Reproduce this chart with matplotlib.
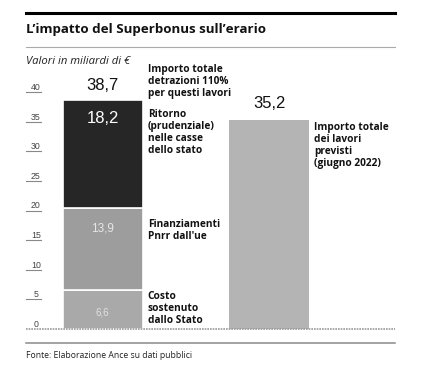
import matplotlib
matplotlib.use("Agg")
import matplotlib.pyplot as plt
from matplotlib.lines import Line2D

# data
stack_values = [6.6, 13.9, 18.2]          # Costo Stato, Pnrr, Ritorno
stack_labels = ["6,6", "13,9", "18,2"]
stack_notes = ["Costo\nsostenuto\ndallo Stato",
               "Finanziamenti\nPnrr dall'ue",
               "Ritorno\n(prudenziale)\nnelle casse\ndello stato"]
total_deduction = 38.7
total_deduction_label = "38,7"
total_deduction_note = "Importo totale\ndetrazioni 110%\nper questi lavori"
works_total = 35.2
works_total_label = "35,2"
works_total_note = "Importo totale\ndei lavori\nprevisti\n(giugno 2022)"
y_ticks = [0, 5, 10, 15, 20, 25, 30, 35, 40]

W, H = 440, 390
fig = plt.figure(figsize=(4.4, 3.9), dpi=100)
fig.patch.set_facecolor("white")

def fy(py):
    return 1 - py / H

def fx(px):
    return px / W

FONT = "Open Sans"
NOTE_SIZE = 7.3
NOTE_LS = 1.12

# decorative lines
fig.add_artist(Line2D([fx(26), fx(395)], [fy(12.5), fy(12.5)], color="black", lw=2.2))
fig.add_artist(Line2D([fx(26), fx(395)], [fy(47), fy(47)], color="#aaaaaa", lw=0.8))
fig.add_artist(Line2D([fx(26), fx(395)], [fy(343), fy(343)], color="#8a8a8a", lw=1.1))

fig.text(fx(26), fy(29), "L\u2019impatto del Superbonus sull\u2019erario", fontsize=9.6,
         fontweight="bold", family=FONT, va="center", ha="left", color="#111111")
fig.text(fx(26), fy(61), "Valori in miliardi di \u20ac", fontsize=8.1, style="italic",
         family=FONT, va="center", ha="left", color="#222222")
fig.text(fx(26), fy(356), "Fonte: Elaborazione Ance su dati pubblici", fontsize=6.2,
         family=FONT, va="center", ha="left", color="#222222")

ax = fig.add_axes([fx(26), fy(329), fx(395) - fx(26), (329 - 92) / H])
ax.set_ylim(0, 40)
ax.set_xlim(-0.46, 1.757)
ax.axis("off")

width = 0.48
seg_colors = ["#a9a9a9", "#9d9d9d", "#262626"]
seg_text_colors = ["#e2e2e2", "#e6e6e6", "white"]
seg_text_sizes = [7, 8.5, 12]
seg_text_offsets = [-13, -10.5, -8]
note_offsets = [-1, -8, -7]

bottom = 0
for val, lab, note, col, tcol, tsz, toff, noff in zip(
        stack_values, stack_labels, stack_notes, seg_colors, seg_text_colors,
        seg_text_sizes, seg_text_offsets, note_offsets):
    ax.bar(0, val, bottom=bottom, width=width, color=col, edgecolor="white", linewidth=1.2)
    top = bottom + val
    ax.annotate(lab, (0, top), xytext=(0, toff), textcoords="offset points",
                ha="center", va="top", fontsize=tsz, color=tcol, family="Liberation Sans")
    ax.annotate(note, (width / 2, top), xytext=(3.8, noff), textcoords="offset points",
                ha="left", va="top", fontsize=NOTE_SIZE, fontweight="bold", family=FONT,
                linespacing=NOTE_LS, color="#111111", annotation_clip=False)
    bottom = top

ax.annotate(total_deduction_label, (0, total_deduction), xytext=(0, 4.5),
            textcoords="offset points", ha="center", va="bottom", fontsize=12,
            color="#111111", family="Liberation Sans", annotation_clip=False)
ax.annotate(total_deduction_note, (width / 2, total_deduction), xytext=(3.8, 26),
            textcoords="offset points", ha="left", va="top", fontsize=NOTE_SIZE,
            fontweight="bold", family=FONT, linespacing=NOTE_LS, color="#111111",
            annotation_clip=False)

ax.bar(1, works_total, width=width, color="#b4b4b4", edgecolor="none")
ax.annotate(works_total_label, (1, works_total), xytext=(0, 6.5),
            textcoords="offset points", ha="center", va="bottom", fontsize=12,
            color="#111111", family="Liberation Sans")
ax.annotate(works_total_note, (1 + width / 2, works_total), xytext=(3.8, -1),
            textcoords="offset points", ha="left", va="top", fontsize=NOTE_SIZE,
            fontweight="bold", family=FONT, linespacing=NOTE_LS, color="#111111",
            annotation_clip=False)

# y ticks: label above a short underline
tr = ax.get_yaxis_transform()
for t in y_ticks:
    if t > 0:
        ax.plot([0, 0.04], [t, t], transform=tr, color="#888888", lw=0.8, clip_on=False)
    ax.text(0.027, t, str(t), transform=tr, ha="center", va="bottom", fontsize=6.3,
            color="#444444", family="Liberation Sans")

# baseline
ax.plot([0, 1], [0, 0], transform=tr, color="#999999", lw=1.2, ls=(0, (1, 0.6)),
        clip_on=False)

fig.savefig("out.png", dpi=100)
